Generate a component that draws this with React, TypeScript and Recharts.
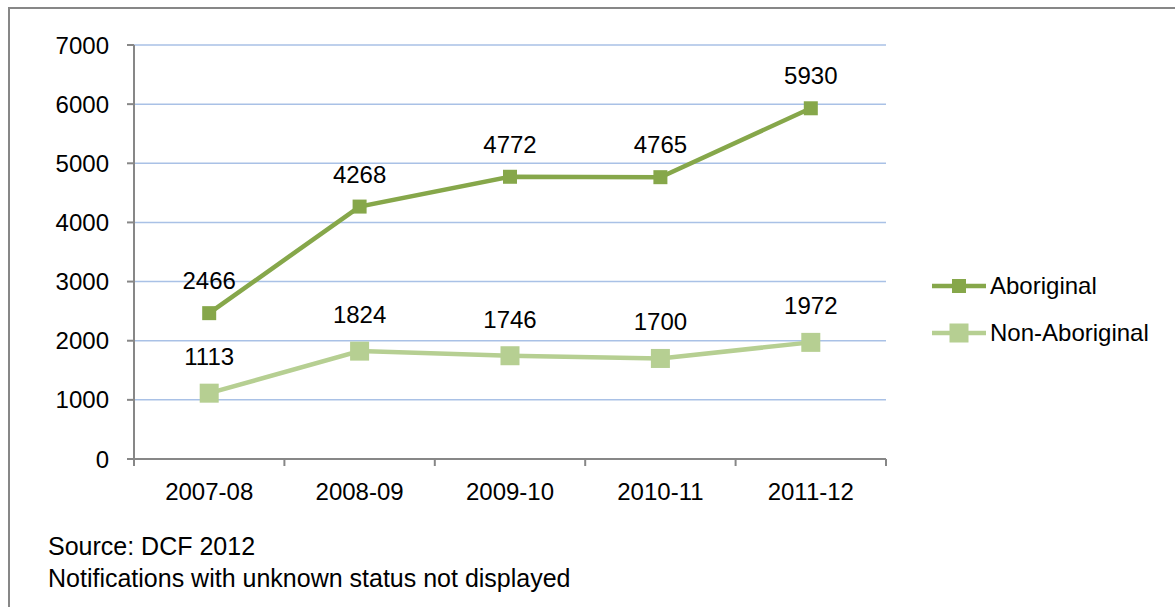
import { LineChart, Line, XAxis, YAxis, CartesianGrid, LabelList } from "recharts";

const years = ["2007-08", "2008-09", "2009-10", "2010-11", "2011-12"];
const aboriginal = [2466, 4268, 4772, 4765, 5930];
const nonAboriginal = [1113, 1824, 1746, 1700, 1972];
const yTicks = [0, 1000, 2000, 3000, 4000, 5000, 6000, 7000];
const seriesNames = ["Aboriginal", "Non-Aboriginal"];
const notes = ["Source: DCF 2012", "Notifications with unknown status not displayed"];

const data = years.map((year, i) => ({
  year,
  aboriginal: aboriginal[i],
  nonAboriginal: nonAboriginal[i],
}));

const FONT = "'Liberation Sans', Arial, sans-serif";
const AXIS = "#878787";
const GRID = "#a9c1e6";
const DARK = "#86a74a";
const LIGHT = "#b6cf92";
const W = 1175;
const H = 607;
const MARGIN = { top: 45, right: 289, bottom: 0, left: 0 };
const Y_AXIS_W = 134;
const X_AXIS_H = 148;
const X_TICK_MARGIN = 24;
const X_TICK_LEN = 7;
const HALF_BAND = (W - MARGIN.right - Y_AXIS_W) / years.length / 2;

const seriesStyle = [
  { color: DARK, size: 14, offset: 24 },
  { color: LIGHT, size: 19, offset: 28 },
];

function squareDot(color: string, size: number) {
  return (props: any) => {
    const { cx, cy, index } = props;
    if (cx == null || cy == null) return <g key={`d-${index}`} />;
    return (
      <rect
        key={`d-${index}`}
        x={cx - size / 2}
        y={cy - size / 2}
        width={size}
        height={size}
        fill={color}
      />
    );
  };
}

// ticks sit on category boundaries, like the spreadsheet chart
function XTick(props: any) {
  const { x, y, payload, index, visibleTicksCount } = props;
  const axisY = y - X_TICK_MARGIN;
  return (
    <g>
      <line x1={x - HALF_BAND} x2={x - HALF_BAND} y1={axisY} y2={axisY + X_TICK_LEN} stroke={AXIS} strokeWidth={2} />
      {index === visibleTicksCount - 1 && (
        <line x1={x + HALF_BAND} x2={x + HALF_BAND} y1={axisY} y2={axisY + X_TICK_LEN} stroke={AXIS} strokeWidth={2} />
      )}
      <text x={x} y={y} dy="0.71em" textAnchor="middle" fill="#000" fontSize={24} fontFamily={FONT}>
        {payload.value}
      </text>
    </g>
  );
}

function LegendBox() {
  return (
    <div style={{ position: "absolute", left: 930, top: 262, fontSize: 24, color: "#000" }}>
      {seriesNames.map((name, i) => {
        const s = seriesStyle[i];
        return (
          <div key={name} style={{ display: "flex", alignItems: "center", height: 47 }}>
            <svg width={58} height={24} style={{ display: "block" }}>
              <line x1={2} x2={56} y1={12} y2={12} stroke={s.color} strokeWidth={4.5} />
              <rect x={29 - s.size / 2} y={12 - s.size / 2} width={s.size} height={s.size} fill={s.color} />
            </svg>
            <span style={{ marginLeft: 2, whiteSpace: "nowrap" }}>{name}</span>
          </div>
        );
      })}
    </div>
  );
}

export default function App() {
  return (
    <div
      style={{
        position: "absolute",
        left: 0,
        top: 0,
        width: W,
        height: H,
        background: "#fff",
        fontFamily: FONT,
        overflow: "hidden",
      }}
    >
      <div
        style={{
          position: "absolute",
          left: 8,
          top: 7,
          right: 0,
          bottom: 0,
          borderTop: `2px solid ${AXIS}`,
          borderLeft: `2px solid ${AXIS}`,
        }}
      />
      <div style={{ position: "absolute", left: 0, top: 0 }}>
        <LineChart width={W} height={H} data={data} margin={MARGIN}>
          <CartesianGrid vertical={false} stroke={GRID} strokeWidth={1.5} />
          <XAxis
            dataKey="year"
            scale="band"
            height={X_AXIS_H}
            stroke={AXIS}
            strokeWidth={2}
            tickLine={false}
            tickSize={0}
            tickMargin={X_TICK_MARGIN}
            tick={<XTick />}
            interval={0}
          />
          <YAxis
            width={Y_AXIS_W}
            domain={[0, 7000]}
            ticks={yTicks}
            interval={0}
            stroke={AXIS}
            strokeWidth={2}
            tickSize={7}
            tickMargin={18}
            tick={{ fill: "#000", fontSize: 24, fontFamily: FONT }}
          />
          <Line
            dataKey="aboriginal"
            name={seriesNames[0]}
            stroke={DARK}
            strokeWidth={4.5}
            dot={squareDot(DARK, seriesStyle[0].size)}
            activeDot={false}
            isAnimationActive={false}
          >
            <LabelList dataKey="aboriginal" position="top" offset={seriesStyle[0].offset} fill="#000" fontSize={24} fontFamily={FONT} />
          </Line>
          <Line
            dataKey="nonAboriginal"
            name={seriesNames[1]}
            stroke={LIGHT}
            strokeWidth={4.5}
            dot={squareDot(LIGHT, seriesStyle[1].size)}
            activeDot={false}
            isAnimationActive={false}
          >
            <LabelList dataKey="nonAboriginal" position="top" offset={seriesStyle[1].offset} fill="#000" fontSize={24} fontFamily={FONT} />
          </Line>
        </LineChart>
      </div>
      <LegendBox />
      {notes.map((t, i) => (
        <div
          key={t}
          style={{
            position: "absolute",
            left: 48,
            top: 530 + i * 32,
            fontSize: 25,
            lineHeight: "32px",
            color: "#000",
            whiteSpace: "nowrap",
          }}
        >
          {t}
        </div>
      ))}
    </div>
  );
}
